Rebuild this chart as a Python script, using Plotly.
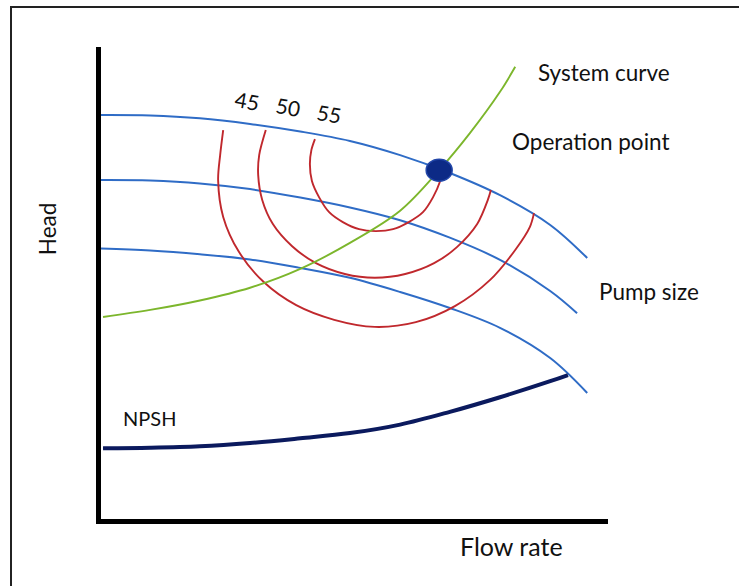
import plotly.graph_objects as go

# ---- data (flow rate %, head %) ----
pump_top_flow = [0, 9.7, 19.5, 29.4, 39.3, 49.1, 59.0, 68.8, 78.7, 88.6, 95.9]
pump_top_head = [85.6, 85.5, 84.9, 83.7, 82.1, 80.1, 77.1, 73.3, 68.6, 62.3, 55.3]

pump_mid_flow = [0, 9.7, 19.5, 29.4, 39.3, 49.1, 59.0, 68.8, 78.7, 88.6, 93.9]
pump_mid_head = [71.8, 71.7, 71.1, 69.9, 68.1, 66.0, 63.3, 59.6, 54.9, 48.3, 43.6]

pump_low_flow = [0, 9.7, 19.5, 29.4, 39.3, 49.1, 59.0, 68.8, 78.7, 88.6, 95.9]
pump_low_head = [57.3, 56.9, 56.1, 55.0, 53.2, 51.1, 48.1, 44.7, 40.5, 34.1, 26.7]

system_flow = [0.4, 9.7, 19.5, 29.4, 39.3, 49.1, 59.0, 66.7, 72.8, 78.7, 81.7]
system_head = [42.8, 44.3, 46.3, 49.0, 53.0, 58.5, 65.3, 73.9, 81.8, 90.5, 95.8]

npsh_flow = [0.4, 9.7, 19.5, 29.4, 39.3, 49.1, 59.0, 68.8, 78.7, 88.6, 92.1]
npsh_head = [15.0, 15.1, 15.4, 16.1, 17.1, 18.2, 20.0, 22.7, 25.8, 29.2, 30.5]

eff55_flow = [42.2, 41.5, 41.2, 41.6, 43.0, 45.0, 47.7, 50.9, 54.2, 57.6, 60.7, 63.5, 65.5, 66.9, 67.3]
eff55_head = [80.5, 78.2, 75.2, 71.6, 68.2, 65.0, 62.9, 61.4, 61.0, 61.4, 62.9, 65.0, 68.2, 71.6, 73.5]

eff50_flow = [32.5, 31.2, 31.0, 31.8, 33.9, 37.7, 42.4, 48.1, 54.0, 60.0, 65.7, 70.2, 74.2, 76.3, 76.9]
eff50_head = [82.4, 77.1, 72.9, 67.6, 62.5, 57.8, 54.2, 51.9, 51.1, 51.9, 54.2, 57.6, 62.5, 67.6, 69.7]

eff45_flow = [24.1, 23.5, 23.1, 24.1, 27.2, 32.1, 38.5, 46.0, 54.0, 62.1, 69.8, 76.7, 81.7, 84.6, 85.4]
eff45_head = [82.4, 77.1, 71.8, 64.0, 56.6, 50.2, 45.3, 42.2, 40.7, 41.7, 45.1, 50.6, 57.0, 61.9, 64.8]

eff_labels = ["45", "50", "55"]
eff_label_flow = [28.8, 36.9, 45.0]
eff_label_head = [88.6, 87.3, 86.0]

op_flow = 66.7
op_head = 73.9

FONT = "Lato"
BLUE = "#2f6cc6"
RED = "#c0282d"
GREEN = "#7cb62c"
NAVY = "#0b1a5e"

fig = go.Figure()

def add_line(x, y, color, width, smoothing):
    fig.add_trace(go.Scatter(x=x, y=y, mode="lines",
                             line=dict(color=color, width=width, shape="spline", smoothing=smoothing),
                             hoverinfo="skip", showlegend=False))

for fx, hy in [(pump_top_flow, pump_top_head), (pump_mid_flow, pump_mid_head), (pump_low_flow, pump_low_head)]:
    add_line(fx, hy, BLUE, 2, 1.0)
for fx, hy in [(eff45_flow, eff45_head), (eff50_flow, eff50_head), (eff55_flow, eff55_head)]:
    add_line(fx, hy, RED, 1.9, 0.9)
add_line(system_flow, system_head, GREEN, 1.9, 1.0)
add_line(npsh_flow, npsh_head, NAVY, 4, 1.0)

# operation point (ellipse anchored at the data point, sized in pixels)
fig.add_shape(type="circle", xref="x", yref="y", xsizemode="pixel", ysizemode="pixel",
              xanchor=op_flow, yanchor=op_head, x0=-13, x1=13, y0=-11, y1=11,
              fillcolor="#0c2a86", line=dict(color="#2246a8", width=1.5))

for t, fx, hy in zip(eff_labels, eff_label_flow, eff_label_head):
    fig.add_annotation(x=fx, y=hy, xref="x", yref="y", text=t, showarrow=False, textangle=10,
                       font=dict(family=FONT, size=21, color="#111"))

def label(text, x, y, size, xanchor="left", angle=0):
    fig.add_annotation(x=x, y=y, xref="paper", yref="paper", text=text, showarrow=False,
                       xanchor=xanchor, yanchor="middle", textangle=angle,
                       font=dict(family=FONT, size=size, color="#111"))

label("System curve", 0.858, 0.945, 22.5)
label("Operation point", 0.807, 0.799, 22.5)
label("Pump size", 0.978, 0.481, 22.5)
label("Flow rate", 0.809, -0.057, 25, xanchor="center")
label("Head", -0.1065, 0.614, 22.5, xanchor="center", angle=-90)
label("NPSH", 0.039, 0.214, 20)

# outer frame
fig.add_shape(type="rect", xref="paper", yref="paper", x0=-0.1775, x1=1.3, y0=-0.2, y1=1.0847,
              line=dict(color="#222", width=2), fillcolor="rgba(0,0,0,0)", layer="below")

fig.update_xaxes(range=[0, 100], showline=True, linewidth=5, linecolor="black", showgrid=False,
                 zeroline=False, showticklabels=False, ticks="", fixedrange=True)
fig.update_yaxes(range=[0, 100], showline=True, linewidth=5, linecolor="black", showgrid=False,
                 zeroline=False, showticklabels=False, ticks="", fixedrange=True)

fig.update_layout(width=739, height=586,
                  margin=dict(l=101, r=131, t=47, b=67, autoexpand=False),
                  paper_bgcolor="white", plot_bgcolor="white", showlegend=False)

fig.write_html("out.html", config={"displayModeBar": False},
               post_script="document.body.style.margin='0';document.body.style.overflow='hidden';")
